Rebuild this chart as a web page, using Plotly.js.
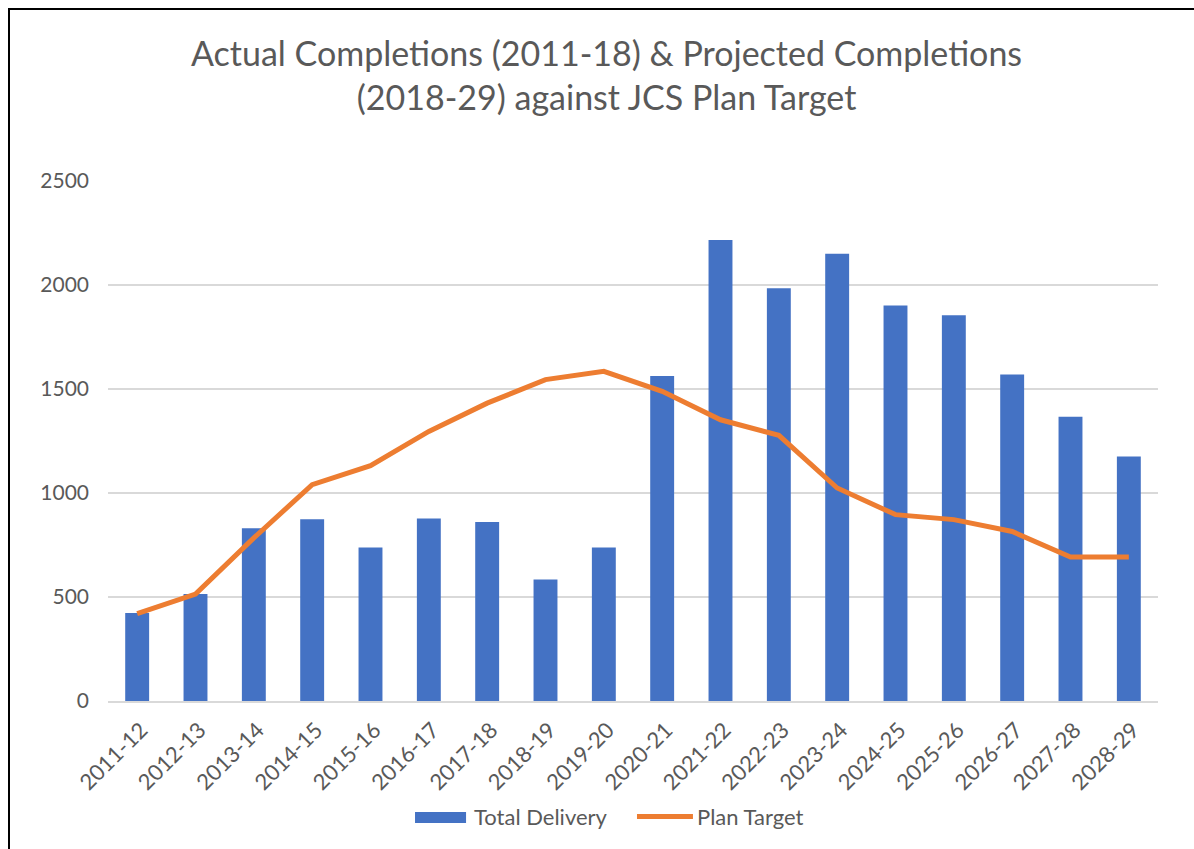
<!DOCTYPE html>
<html>
<head>
<meta charset="utf-8">
<script src="https://cdn.plot.ly/plotly-3.0.1.min.js"></script>
<style>
  body { margin: 0; overflow: hidden; background: #fff; }
  #chart { position: absolute; left: 0; top: 0; width: 1194px; height: 849px; }
  #frame { position: absolute; left: 8px; top: 8px; width: 1400px; height: 1000px;
           border-left: 2px solid #000; border-top: 2px solid #000; pointer-events: none; }
</style>
</head>
<body>
<div id="chart"></div>
<div id="frame"></div>
<script>
var years = ['2011-12', '2012-13', '2013-14', '2014-15', '2015-16', '2016-17', '2017-18', '2018-19', '2019-20',
	'2020-21', '2021-22', '2022-23', '2023-24', '2024-25', '2025-26', '2026-27', '2027-28', '2028-29'];

var total_delivery = [423, 514, 830, 874, 738, 878, 860, 584, 738,
	1563, 2216, 1984, 2150, 1902, 1854, 1570, 1366, 1176];

var plan_target = [420, 514, 784, 1040, 1131, 1296, 1432, 1545, 1585,
	1489, 1352, 1277, 1024, 896, 872, 815, 692, 692];

var tick_vals = [0, 500, 1000, 1500, 2000, 2500];

var font_name = 'Lato, "Open Sans", sans-serif';
var grey_text = '#595959';
var blue = '#4472C4';
var orange = '#ED7D31';

var bars = {
	x: years,
	y: total_delivery,
	name: 'Total Delivery',
	type: 'bar',
	marker: { color: blue },
	hoverinfo: 'x+y'
};

var line = {
	x: years,
	y: plan_target,
	name: 'Plan Target',
	type: 'scatter',
	mode: 'lines',
	line: { color: orange, width: 5 },
	hoverinfo: 'x+y'
};

/* legend drawn by hand so the keys get the wide Excel look */
var legend_font = { family: font_name, size: 22, color: grey_text };

var layout = {
	width: 1194,
	height: 849,
	margin: { l: 108, r: 36, t: 181, b: 148, pad: 0 },
	paper_bgcolor: '#ffffff',
	plot_bgcolor: '#ffffff',
	title: {
		text: 'Actual Completions (2011-18) & Projected Completions<br>(2018-29) against JCS Plan Target',
		x: 0.508,
		xanchor: 'center',
		y: 0.922,
		yanchor: 'top',
		font: { family: font_name, size: 34, color: grey_text }
	},
	bargap: 0.59,
	showlegend: false,
	shapes: [
		{ type: 'rect', xref: 'paper', yref: 'paper', x0: 0.2924, x1: 0.3410, y0: -0.2346, y1: -0.2135,
			fillcolor: blue, line: { width: 0 } },
		{ type: 'line', xref: 'paper', yref: 'paper', x0: 0.5038, x1: 0.5571, y0: -0.2221, y1: -0.2221,
			line: { color: orange, width: 5 } }
	],
	annotations: [
		{ text: 'Total Delivery', xref: 'paper', yref: 'paper', x: 0.3465, y: -0.2212,
			xanchor: 'left', yanchor: 'middle', showarrow: false, font: legend_font },
		{ text: 'Plan Target', xref: 'paper', yref: 'paper', x: 0.5590, y: -0.2212,
			xanchor: 'left', yanchor: 'middle', showarrow: false, font: legend_font }
	],
	xaxis: {
		type: 'category',
		automargin: false,
		showgrid: false,
		tickangle: -45,
		ticks: '',
		ticklabelstandoff: 6,
		ticklabelshift: 4,
		showline: true,
		linecolor: '#D9D9D9',
		linewidth: 1.5,
		tickfont: { family: font_name, size: 22, color: grey_text }
	},
	yaxis: {
		automargin: false,
		range: [0, 2500],
		tickvals: tick_vals,
		showgrid: true,
		gridcolor: '#D9D9D9',
		gridwidth: 1.5,
		zeroline: false,
		ticks: '',
		ticklabelstandoff: 18,
		tickfont: { family: font_name, size: 21, color: grey_text }
	},
	font: { family: font_name, color: grey_text }
};

Plotly.newPlot('chart', [bars, line], layout, { displayModeBar: false, staticPlot: true });
</script>
</body>
</html>
